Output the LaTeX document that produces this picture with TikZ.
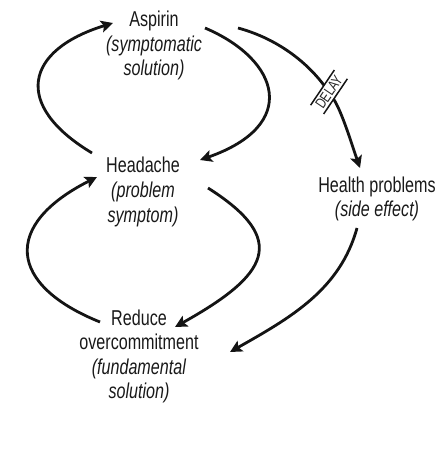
\documentclass[tikz,border=0pt]{standalone}
\usepackage{fontspec}
\setmainfont{Liberation Sans}[FakeStretch=0.75]
\usetikzlibrary{arrows.meta}
\begin{document}
\begin{tikzpicture}[x=1pt,y=-1pt,
  lbl/.style={align=center, font=\fontsize{21.5}{24.5}\selectfont, text=black!90, inner sep=0pt, anchor=base},
  conn/.style={line width=2.8pt, draw=black!92, -{Stealth[length=12pt,width=12pt,inset=2.5pt]}},
  plainconn/.style={line width=2.8pt, draw=black!92},
  delaybox/.style={rotate=56, font=\fontsize{15}{15}\selectfont, text=black!85, inner xsep=3pt, inner ysep=2.5pt},
  bar/.style={line width=1.5pt, draw=black!92}]
\useasboundingbox (0,0) rectangle (446,454);
% nodes (anchored at the baseline of their last line)
\node[lbl] (aspirin) at (154,76) {Aspirin\\\textit{(symptomatic}\\\textit{solution)}};
\node[lbl] (headache) at (143,222) {Headache\\\textit{(problem}\\\textit{symptom)}};
\node[lbl] (health) at (377,216.5) {Health problems\\\textit{(side effect)}};
\node[lbl] (reduce) at (139,398.5) {Reduce\\overcommitment\\\textit{(fundamental}\\\textit{solution)}};
\node[delaybox] (delay) at (329,92) {DELAY};
\draw[bar] (delay.north west) -- (delay.north east);
\draw[bar] (delay.south west) -- (delay.south east);
% upper loop
\draw[conn] ([shift={(-51,-69)}]headache.base) .. controls (12,105) and (25,50) .. ([shift={(-41,-53)}]aspirin.base);
\draw[conn] ([shift={(51,-48)}]aspirin.base) .. controls (280,60) and (300,125) .. ([shift={(57,-62)}]headache.base);
% lower loop
\draw[conn] ([shift={(65,-34)}]headache.base) .. controls (290,240) and (268,275) .. ([shift={(36,-71.5)}]reduce.base);
\draw[conn] ([shift={(-39,-76.5)}]reduce.base) .. controls (8,285) and (2,225) .. ([shift={(-46,-45)}]headache.base);
% side effect path
\draw[plainconn] ([shift={(84,-48)}]aspirin.base) .. controls (275,38) and (305,60) .. (delay);
\draw[conn] (delay) .. controls (342,112) and (352,145) .. ([shift={(-17,-48.5)}]health.base);
\draw[conn] ([shift={(-20,11.5)}]health.base) .. controls (340,290) and (290,318) .. ([shift={(91,-46.5)}]reduce.base);
\end{tikzpicture}
\end{document}
